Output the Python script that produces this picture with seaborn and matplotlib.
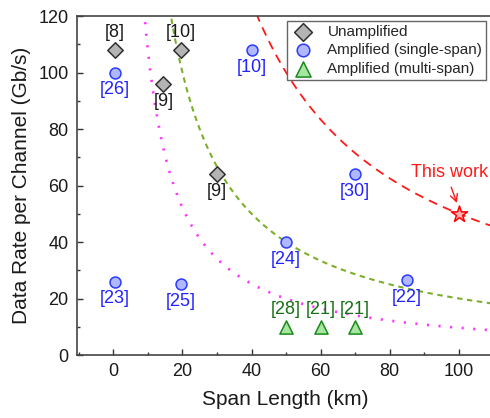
import numpy as np
import pandas as pd
import matplotlib
matplotlib.use("Agg")
import matplotlib.pyplot as plt
import seaborn as sns

# Unamplified links
unamp_km = [0.5, 19.5, 14.5, 30]
unamp_rate = [108, 108, 96, 64]
unamp_ref = ["[8]", "[10]", "[9]", "[9]"]
unamp_above = [True, True, False, False]

# Amplified, single span
single_km = [0.5, 40, 70, 50, 85, 0.5, 19.5]
single_rate = [100, 108, 64, 40, 26.5, 26, 25]
single_ref = ["[26]", "[10]", "[30]", "[24]", "[22]", "[23]", "[25]"]

# Amplified, multi span
multi_km = [50, 60, 70]
multi_rate = [10, 10, 10]
multi_ref = ["[28]", "[21]", "[21]"]

# This work
this_km = [100]
this_rate = [50]

# Rate x distance trend curves: rate = k / km**p
trend_k = [5000, 2000, 1212]
trend_p = [1.0, 1.0, 1.05]

sns.set_theme(style="ticks")
plt.rcParams["font.family"] = ["Liberation Sans", "DejaVu Sans"]

fig = plt.figure(figsize=(4.9, 4.18), dpi=100)
ax = fig.add_axes([77 / 490, 1 - 355 / 418, (493.5 - 77) / 490, (355 - 16) / 418])

km = np.linspace(1, 110, 600)
trend_styles = [
    dict(color="#ff1a1a", linestyle=(0, (5, 3.5)), linewidth=1.3),
    dict(color="#7cb02c", linestyle=(0, (2.6, 2.2)), linewidth=1.5),
    dict(color="#ff33ff", linestyle=(0, (0.8, 3.6)), linewidth=1.9),
]
for k, p, st in zip(trend_k, trend_p, trend_styles):
    df = pd.DataFrame({"km": km, "rate": k / km ** p})
    sns.lineplot(data=df, x="km", y="rate", ax=ax, legend=False, zorder=1, **st)

sns.scatterplot(x=unamp_km, y=unamp_rate, ax=ax, marker="D", s=62,
                color="#b4b4b4", edgecolor="#303030", linewidth=1.1,
                label="Unamplified", zorder=3)
sns.scatterplot(x=single_km, y=single_rate, ax=ax, marker="o", s=62,
                color="#b0b8ff", edgecolor="#2a3cff", linewidth=1.1,
                label="Amplified (single-span)", zorder=3)
sns.scatterplot(x=multi_km, y=multi_rate, ax=ax, marker="^", s=90,
                color="#a6e6a0", edgecolor="#1a8a1a", linewidth=1.1,
                label="Amplified (multi-span)", zorder=3)
sns.scatterplot(x=this_km, y=this_rate, ax=ax, marker="*", s=150,
                color="#ffb0b0", edgecolor="#ff0000", linewidth=1.1,
                legend=False, zorder=4)

def tag(xs, ys, refs, above, color):
    for x, y, r, a in zip(xs, ys, refs, above):
        ax.annotate(r, (x, y), xytext=(0, 12.5 if a else -12.5),
                    textcoords="offset points", ha="center", va="center",
                    fontsize=13, color=color, zorder=5)

tag(unamp_km, unamp_rate, unamp_ref, unamp_above, "#1a1a1a")
tag(single_km, single_rate, single_ref, [False] * len(single_km), "#2222ff")
tag(multi_km, multi_rate, multi_ref, [True] * len(multi_km), "#157015")

ax.annotate("This work", xy=(99.4, 53.8), xytext=(86, 64.5), fontsize=13,
            color="#ff1a1a", ha="left", va="center",
            arrowprops=dict(arrowstyle="->", color="#ff1a1a", lw=1.0,
                            shrinkA=2, shrinkB=0, relpos=(0.5, 0.0)),
            annotation_clip=False)

ax.set_xlim(-10.5, 110)
ax.set_ylim(0, 120)
ax.set_xticks([0, 20, 40, 60, 80, 100])
ax.set_yticks([0, 20, 40, 60, 80, 100, 120])
ax.set_xticks(np.arange(-10, 111, 10), minor=True)
ax.set_yticks(np.arange(0, 121, 10), minor=True)
ax.tick_params(axis="both", which="major", direction="in", length=4, width=1,
               labelsize=13, color="#333333", labelcolor="#1a1a1a", pad=6)
ax.tick_params(axis="both", which="minor", direction="in", length=2.5, width=1,
               color="#333333")
for s in ax.spines.values():
    s.set_color("#444444")
    s.set_linewidth(1.2)

ax.set_xlabel("Span Length (km)", fontsize=15, color="#1a1a1a", labelpad=7)
ax.set_ylabel("Data Rate per Channel (Gb/s)", fontsize=15, color="#1a1a1a", labelpad=5)

leg = ax.legend(loc="upper left", bbox_to_anchor=(0.504, 0.985), fontsize=11,
                frameon=True, fancybox=False, framealpha=1, edgecolor="#666666",
                borderpad=0.25, labelspacing=0.3, handletextpad=0.8,
                borderaxespad=0, handlelength=1.6, markerscale=1.15)
leg.get_frame().set_linewidth(1.0)

fig.savefig("out.png", dpi=100)
